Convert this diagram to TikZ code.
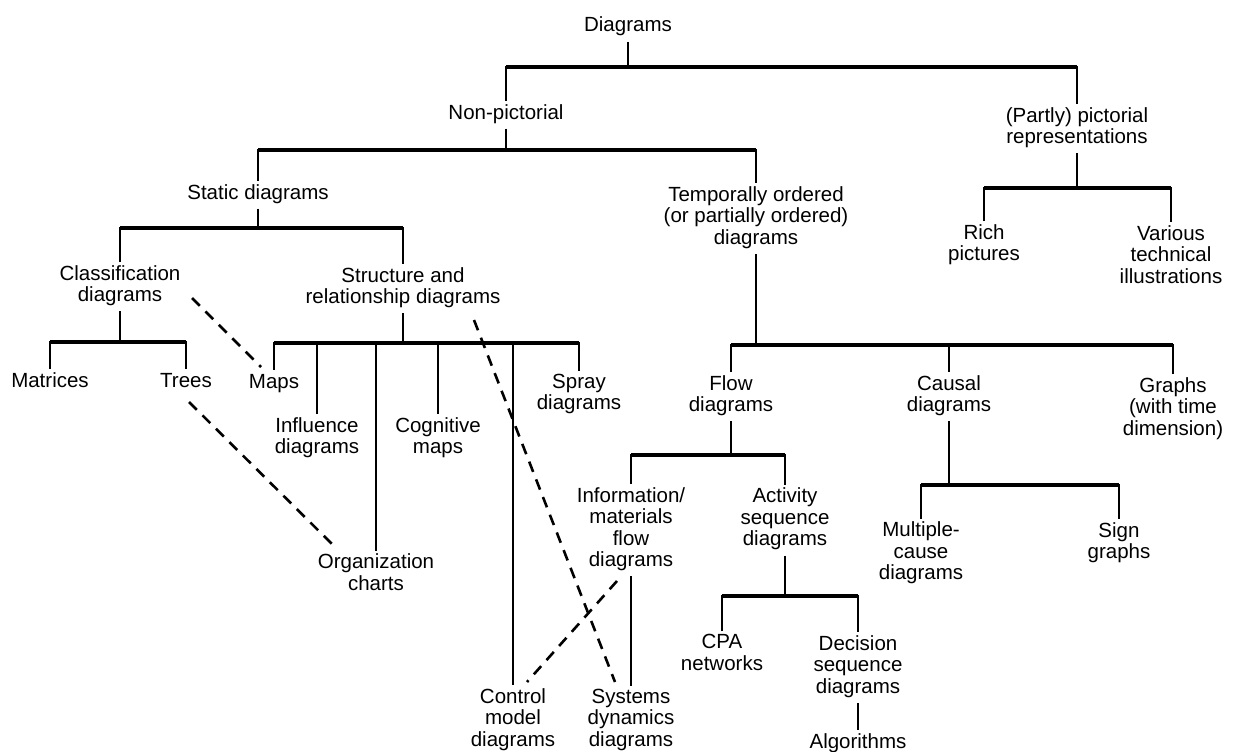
\documentclass[tikz,border=0pt]{standalone}
\usepackage{fontspec}
\setmainfont{Liberation Sans}
\usetikzlibrary{calc}
\begin{document}
\begin{tikzpicture}[x=1pt,y=-1pt,
  lbl/.style={align=center, inner xsep=2pt, inner ysep=3pt,
    font=\fontsize{20.5}{21.5}\selectfont,
    execute at begin node=\strut, execute at end node=\strut},
  tree/.style={line width=2.6pt, line join=miter},
  bar/.style={line width=3.2pt},
  link/.style={line width=2.6pt, dash pattern=on 11pt off 8pt}]
\useasboundingbox[fill=white] (0,0) rectangle (1235,752);

% ---- labels ----
\node[lbl] (dia)    at (628,27.7)   {Diagrams};
\node[lbl] (nonp)   at (506,114.7)  {Non-pictorial};
\node[lbl] (part)   at (1077,128.7) {(Partly) pictorial\\representations};
\node[lbl] (stat)   at (258,194.7)  {Static diagrams};
\node[lbl] (temp)   at (756,218.7)  {Temporally ordered\\(or partially ordered)\\diagrams};
\node[lbl] (rich)   at (984,245.7)  {Rich\\pictures};
\node[lbl] (vari)   at (1171,257.7) {Various\\technical\\illustrations};
\node[lbl] (cls)    at (120,286.7)  {Classification\\diagrams};
\node[lbl] (struct) at (403,288.7)  {Structure and\\relationship diagrams};
\node[lbl] (mat)    at (50,382.7)   {Matrices};
\node[lbl] (trees)  at (186,382.7)  {Trees};
\node[lbl] (maps)   at (274,383.7)  {Maps};
\node[lbl] (infl)   at (317,438.7)  {Influence\\diagrams};
\node[lbl] (cogn)   at (438,438.7)  {Cognitive\\maps};
\node[lbl] (spray)  at (579,395.2)  {Spray\\diagrams};
\node[lbl] (org)    at (376,575.2)  {Organization\\charts};
\node[lbl] (ctrl)   at (513,720.7)  {Control\\model\\diagrams};
\node[lbl] (sysd)   at (631,720.7)  {Systems\\dynamics\\diagrams};
\node[lbl] (flow)   at (731,396.7)  {Flow\\diagrams};
\node[lbl] (caus)   at (949,396.7)  {Causal\\diagrams};
\node[lbl] (graphs) at (1173,409.7) {Graphs\\(with time\\dimension)};
\node[lbl] (info)   at (631,530.2)  {Information/\\materials\\flow\\diagrams};
\node[lbl] (act)    at (785,520.2)  {Activity\\sequence\\diagrams};
\node[lbl] (mult)   at (921,554.2)  {Multiple-\\cause\\diagrams};
\node[lbl] (sign)   at (1119,543.7) {Sign\\graphs};
\node[lbl] (cpa)    at (722,655.7)  {CPA\\networks};
\node[lbl] (dec)    at (858,667.7)  {Decision\\sequence\\diagrams};
\node[lbl] (alg)    at (858,743.7)  {Algorithms};

% ---- levels of the horizontal bars ----
\coordinate (lvDia)    at (0,67);
\coordinate (lvNonp)   at (0,150);
\coordinate (lvPart)   at (0,188);
\coordinate (lvStat)   at (0,228);
\coordinate (lvCls)    at (0,342);
\coordinate (lvStruct) at (0,343);
\coordinate (lvTemp)   at (0,345);
\coordinate (lvFlow)   at (0,455);
\coordinate (lvCaus)   at (0,485);
\coordinate (lvAct)    at (0,596);

% ---- tree connectors ----
% Diagrams
\draw[tree] (dia.south) -- (dia.south |- lvDia);
\draw[tree] (nonp.north) -- (nonp.north |- lvDia) -- (part.north |- lvDia) -- (part.north);
\draw[bar]  (nonp.north |- lvDia) -- (part.north |- lvDia);
% Non-pictorial
\draw[tree] (nonp.south) -- (nonp.south |- lvNonp);
\draw[tree] (stat.north) -- (stat.north |- lvNonp) -- (temp.north |- lvNonp) -- (temp.north);
\draw[bar]  (stat.north |- lvNonp) -- (temp.north |- lvNonp);
% (Partly) pictorial
\draw[tree] (part.south) -- (part.south |- lvPart);
\draw[tree] (rich.north) -- (rich.north |- lvPart) -- (vari.north |- lvPart) -- (vari.north);
\draw[bar]  (rich.north |- lvPart) -- (vari.north |- lvPart);
% Static
\draw[tree] (stat.south) -- (stat.south |- lvStat);
\draw[tree] (cls.north) -- (cls.north |- lvStat) -- (struct.north |- lvStat) -- (struct.north);
\draw[bar]  (cls.north |- lvStat) -- (struct.north |- lvStat);
% Classification
\draw[tree] (cls.south) -- (cls.south |- lvCls);
\draw[tree] (mat.north) -- (mat.north |- lvCls) -- (trees.north |- lvCls) -- (trees.north);
\draw[bar]  (mat.north |- lvCls) -- (trees.north |- lvCls);
% Structure and relationship
\draw[tree] (struct.south) -- (struct.south |- lvStruct);
\draw[tree] (maps.north) -- (maps.north |- lvStruct) -- (spray.north |- lvStruct) -- (spray.north);
\draw[bar]  (maps.north |- lvStruct) -- (spray.north |- lvStruct);
\foreach \c in {infl,org,cogn,ctrl}
  \draw[tree] (\c.north |- lvStruct) -- (\c.north);
% Temporally ordered
\draw[tree] (temp.south) -- (temp.south |- lvTemp);
\draw[tree] (flow.north) -- (flow.north |- lvTemp) -- (graphs.north |- lvTemp) -- (graphs.north);
\draw[bar]  (flow.north |- lvTemp) -- (graphs.north |- lvTemp);
\draw[tree] (caus.north |- lvTemp) -- (caus.north);
% Flow
\draw[tree] (flow.south) -- (flow.south |- lvFlow);
\draw[tree] (info.north) -- (info.north |- lvFlow) -- (act.north |- lvFlow) -- (act.north);
\draw[bar]  (info.north |- lvFlow) -- (act.north |- lvFlow);
% Causal
\draw[tree] (caus.south) -- (caus.south |- lvCaus);
\draw[tree] (mult.north) -- (mult.north |- lvCaus) -- (sign.north |- lvCaus) -- (sign.north);
\draw[bar]  (mult.north |- lvCaus) -- (sign.north |- lvCaus);
% Activity sequence
\draw[tree] (act.south) -- (act.south |- lvAct);
\draw[tree] (cpa.north) -- (cpa.north |- lvAct) -- (dec.north |- lvAct) -- (dec.north);
\draw[bar]  (cpa.north |- lvAct) -- (dec.north |- lvAct);
% single descendants
\draw[tree] (info.south) -- (info.south |- sysd.north);
\draw[tree] (dec.south) -- (alg.north);

% ---- dashed cross links ----
\draw[link] ($(cls.center)+(72,11.3)$)     -- ($(maps.center)+(-13,-16.7)$);
\draw[link] ($(trees.center)+(3,19.3)$)    -- ($(org.center)+(-43,-30.2)$);
\draw[link] ($(struct.center)+(71,31.3)$)  -- ($(sysd.center)+(-16,-38.7)$);
\draw[link] ($(info.center)+(-14,50.8)$)   -- ($(ctrl.center)+(14,-38.7)$);
\end{tikzpicture}
\end{document}
